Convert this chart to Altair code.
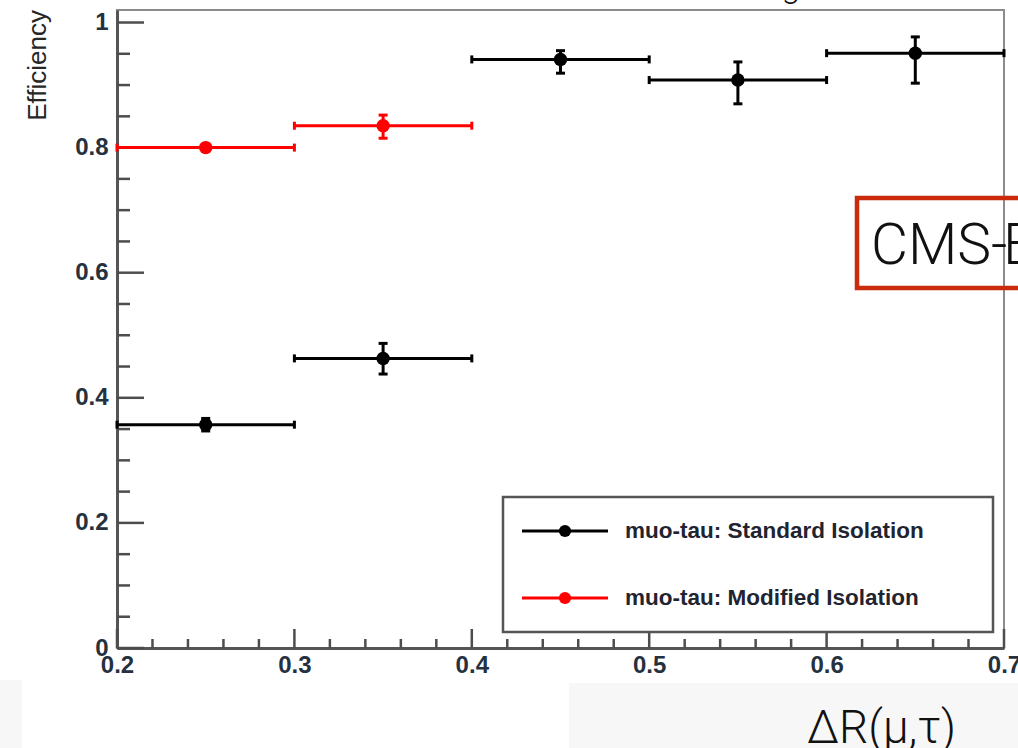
import altair as alt
import pandas as pd

# ---------------- data ----------------
bin_lo = [0.2, 0.3, 0.4, 0.5, 0.6]
bin_hi = [0.3, 0.4, 0.5, 0.6, 0.7]
bin_c = [0.25, 0.35, 0.45, 0.55, 0.65]

std_eff = [0.357, 0.463, 0.941, 0.908, 0.951]
std_err_dn = [0.010, 0.025, 0.022, 0.038, 0.048]
std_err_up = [0.010, 0.024, 0.014, 0.029, 0.026]

mod_lo = [0.2, 0.3]
mod_hi = [0.3, 0.4]
mod_c = [0.25, 0.35]
mod_eff = [0.800, 0.835]
mod_err_dn = [0.005, 0.020]
mod_err_up = [0.005, 0.017]

series_names = ["muo-tau: Standard Isolation", "muo-tau: Modified Isolation"]
series_colors = ["#000000", "#ff0000"]

x_major = [0.2, 0.3, 0.4, 0.5, 0.6, 0.7]
x_minor = [round(0.2 + 0.02 * i, 2) for i in range(26) if i % 5]
y_major = [0.0, 0.2, 0.4, 0.6, 0.8, 1.0]
y_minor = [round(0.05 * i, 2) for i in range(21) if i % 4]

# ---------------- tables ----------------
rows = []
for s, lo, hi, c, e, dn, up in (
    [(series_names[0],) + t for t in zip(bin_lo, bin_hi, bin_c, std_eff, std_err_dn, std_err_up)]
    + [(series_names[1],) + t for t in zip(mod_lo, mod_hi, mod_c, mod_eff, mod_err_dn, mod_err_up)]
):
    rows.append(dict(series=s, lo=lo, hi=hi, c=c, eff=e, e_dn=e - dn, e_up=e + up))
df = pd.DataFrame(rows)

hcaps = pd.DataFrame(
    [dict(series=r["series"], x=r["lo"], y=r["eff"]) for r in rows]
    + [dict(series=r["series"], x=r["hi"], y=r["eff"]) for r in rows]
)
vcaps = pd.DataFrame(
    [dict(series=r["series"], x=r["c"], y=r["e_dn"]) for r in rows]
    + [dict(series=r["series"], x=r["c"], y=r["e_up"]) for r in rows]
)

W, H = 887, 638
FONT = "Liberation Sans"
LABEL_COLOR = "#26313f"
TICK_COLOR = "#4d4d4d"

xscale = alt.Scale(domain=[0.2, 0.7], nice=False, zero=False)
yscale = alt.Scale(domain=[0.0, 1.02], nice=False, zero=False)
color = alt.Color("series:N", scale=alt.Scale(domain=series_names, range=series_colors), legend=None)

xaxis = alt.Axis(
    values=x_major, format=".1f", title=None, grid=False, tickSize=0,
    labelFont=FONT, labelFontWeight="bold", labelFontSize=24, labelColor=LABEL_COLOR,
    labelPadding=5, labelFlush=False, labelOverlap=False,
    domainColor="#555555", domainWidth=3,
)
yaxis = alt.Axis(
    values=y_major, format=".1~f", title=None, grid=False, tickSize=0,
    labelFont=FONT, labelFontWeight="bold", labelFontSize=24, labelColor=LABEL_COLOR,
    labelPadding=9, labelFlush=False, labelOverlap=False,
    domainColor="#555555", domainWidth=3,
)

# ---------------- axis ticks (ROOT style, drawn inside) ----------------
xt_major = alt.Chart(pd.DataFrame({"v": x_major})).mark_rule(color=TICK_COLOR, strokeWidth=2.5).encode(
    x=alt.X("v:Q", scale=xscale, axis=xaxis), y=alt.value(H), y2=alt.value(H - 19)
)
xt_minor = alt.Chart(pd.DataFrame({"v": x_minor})).mark_rule(color=TICK_COLOR, strokeWidth=2.5).encode(
    x=alt.X("v:Q", scale=xscale), y=alt.value(H), y2=alt.value(H - 9)
)
yt_major = alt.Chart(pd.DataFrame({"v": y_major})).mark_rule(color=TICK_COLOR, strokeWidth=2.5).encode(
    y=alt.Y("v:Q", scale=yscale, axis=yaxis), x=alt.value(0), x2=alt.value(27)
)
yt_minor = alt.Chart(pd.DataFrame({"v": y_minor})).mark_rule(color=TICK_COLOR, strokeWidth=2.5).encode(
    y=alt.Y("v:Q", scale=yscale), x=alt.value(0), x2=alt.value(13)
)

# ---------------- data marks ----------------
base = alt.Chart(df)
hbars = base.mark_rule(strokeWidth=3).encode(
    x=alt.X("lo:Q", scale=xscale), x2="hi:Q", y=alt.Y("eff:Q", scale=yscale), color=color
)
vbars = base.mark_rule(strokeWidth=3).encode(
    x=alt.X("c:Q", scale=xscale), y=alt.Y("e_dn:Q", scale=yscale), y2="e_up:Q", color=color
)
hcap = alt.Chart(hcaps).mark_tick(orient="vertical", size=8, thickness=3, opacity=1).encode(
    x=alt.X("x:Q", scale=xscale), y=alt.Y("y:Q", scale=yscale), color=color
)
vcap = alt.Chart(vcaps).mark_tick(orient="horizontal", size=9, thickness=3, opacity=1).encode(
    x=alt.X("x:Q", scale=xscale), y=alt.Y("y:Q", scale=yscale), color=color
)
pts = base.mark_circle(size=180, opacity=1).encode(
    x=alt.X("c:Q", scale=xscale), y=alt.Y("eff:Q", scale=yscale), color=color
)

# ---------------- annotations ----------------
ytitle = alt.Chart(pd.DataFrame({"t": ["Efficiency"]})).mark_text(
    angle=270, align="right", baseline="middle", font=FONT, fontSize=26, color="#262626"
).encode(text="t:N", x=alt.value(38 - 117), y=alt.value(0))

legend_box = alt.Chart(pd.DataFrame({"a": [0]})).mark_rect(
    fill="white", stroke="#555555", strokeWidth=2.5
).encode(x=alt.value(386), x2=alt.value(876), y=alt.value(487), y2=alt.value(622))

legend_layers = []
for name, col, ry in zip(series_names, series_colors, [521, 588]):
    ld = pd.DataFrame({"t": [name]})
    legend_layers.append(
        alt.Chart(ld).mark_rule(color=col, strokeWidth=3).encode(
            x=alt.value(405), x2=alt.value(491), y=alt.value(ry)
        )
    )
    legend_layers.append(
        alt.Chart(ld).mark_circle(color=col, size=150, opacity=1).encode(
            x=alt.value(448), y=alt.value(ry)
        )
    )
    legend_layers.append(
        alt.Chart(ld).mark_text(
            align="left", baseline="middle", font=FONT, fontWeight="bold", fontSize=22.5, color="#1f2430"
        ).encode(text="t:N", x=alt.value(508), y=alt.value(ry))
    )

cms_box = alt.Chart(pd.DataFrame({"a": [0]})).mark_rect(
    fillOpacity=0, stroke="#cc2a0c", strokeWidth=4.5
).encode(x=alt.value(740), x2=alt.value(960), y=alt.value(188), y2=alt.value(278))
cms_text = alt.Chart(pd.DataFrame({"t": ["CMS-"]})).mark_text(
    align="left", baseline="alphabetic", font="Roboto", fontWeight=300, fontSize=57, color="#111111"
).encode(text="t:N", x=alt.value(754), y=alt.value(254))
cms_text_e = alt.Chart(pd.DataFrame({"t": ["E"]})).mark_text(
    align="left", baseline="alphabetic", font="Roboto", fontWeight=300, fontSize=57, color="#111111"
).encode(text="t:N", x=alt.value(886), y=alt.value(254))

gray_bottom = alt.Chart(pd.DataFrame({"a": [0]})).mark_rect(fill="#f7f7f7").encode(
    x=alt.value(452), x2=alt.value(910), y=alt.value(673), y2=alt.value(745)
)
gray_left = alt.Chart(pd.DataFrame({"a": [0]})).mark_rect(fill="#f7f7f7").encode(
    x=alt.value(-117), x2=alt.value(-95), y=alt.value(670), y2=alt.value(745)
)
xtitle = alt.Chart(pd.DataFrame({"t": ["ΔR(μ,τ)"]})).mark_text(
    align="left", baseline="alphabetic", font="Roboto", fontWeight=300, fontSize=46, color="#111111"
).encode(text="t:N", x=alt.value(690), y=alt.value(733))
top_g = alt.Chart(pd.DataFrame({"t": ["g"]})).mark_text(
    align="center", baseline="alphabetic", font="Roboto", fontWeight=300, fontSize=34, color="#111111"
).encode(text="t:N", x=alt.value(674), y=alt.value(-13))

chart = alt.layer(
    gray_bottom, gray_left,
    xt_major, xt_minor, yt_major, yt_minor,
    hbars, vbars, hcap, vcap, pts,
    legend_box, *legend_layers,
    cms_box, cms_text, cms_text_e, xtitle, ytitle, top_g,
).properties(
    width=W, height=H,
    padding={"left": 117, "top": 10, "right": 14, "bottom": 100},
    autosize=alt.AutoSizeParams(type="none"),
    background="white",
).configure_view(stroke="#8c8c8c", strokeWidth=2)

chart.save("out.html", embed_options={"renderer": "svg", "actions": False})
